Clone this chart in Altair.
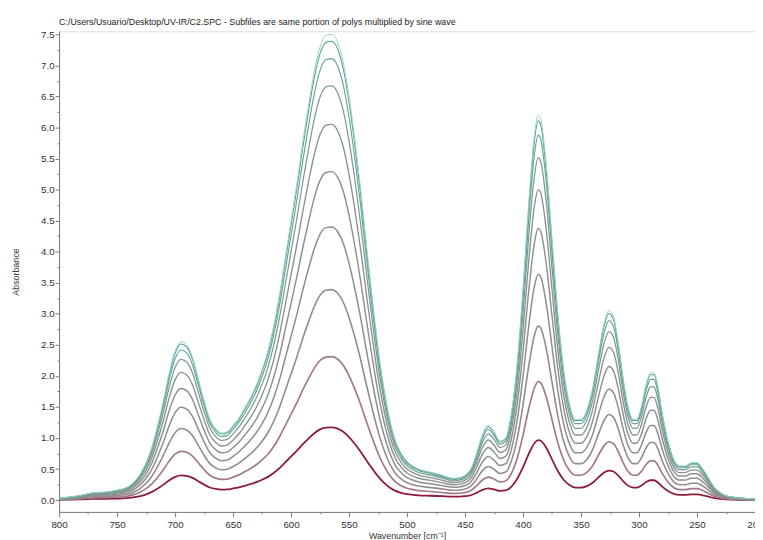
import altair as alt
import pandas as pd

# Wavenumber grid (cm^-1) and the outermost subfile
wavenumber = [
    800, 790, 780, 770, 760, 750, 745, 740, 735, 730,
    725, 720, 715, 710, 705, 700, 695, 690, 685, 680,
    675, 670, 665, 660, 655, 650, 645, 640, 635, 630,
    625, 620, 615, 610, 605, 600, 595, 590, 585, 580,
    575, 570, 565, 560, 555, 550, 545, 540, 535, 530,
    525, 520, 515, 510, 505, 500, 495, 490, 480, 470,
    460, 455, 450, 445, 440, 435, 430, 425, 420, 415,
    410, 405, 400, 395, 390, 387, 385, 380, 375, 370,
    365, 360, 355, 350, 345, 340, 335, 330, 326, 322,
    318, 314, 310, 305, 302, 298, 294, 290, 287, 284,
    280, 275, 270, 265, 260, 255, 250, 245, 240, 235,
    230, 225, 220, 210, 200]

top_curve = [
    0.03, 0.05, 0.08, 0.12, 0.13, 0.16, 0.18, 0.22, 0.30, 0.42,
    0.60, 0.85, 1.20, 1.60, 2.05, 2.40, 2.55, 2.50, 2.30, 1.95,
    1.60, 1.30, 1.15, 1.08, 1.10, 1.20, 1.32, 1.48, 1.65, 1.85,
    2.10, 2.40, 2.80, 3.30, 3.90, 4.50, 5.10, 5.75, 6.35, 6.90,
    7.30, 7.48, 7.50, 7.38, 7.05, 6.50, 5.80, 5.00, 4.10, 3.25,
    2.45, 1.80, 1.30, 0.95, 0.75, 0.62, 0.55, 0.50, 0.45, 0.40,
    0.35, 0.36, 0.40, 0.50, 0.75, 1.05, 1.20, 1.10, 0.95, 1.00,
    1.40, 2.20, 3.40, 4.80, 5.90, 6.20, 6.15, 5.40, 4.20, 3.00,
    2.10, 1.55, 1.30, 1.30, 1.45, 1.80, 2.35, 2.85, 3.05, 2.95,
    2.55, 2.00, 1.55, 1.30, 1.30, 1.50, 1.85, 2.05, 2.05, 1.85,
    1.40, 0.95, 0.65, 0.55, 0.55, 0.60, 0.60, 0.50, 0.35, 0.20,
    0.12, 0.07, 0.05, 0.03, 0.02]

# Peak height of each subfile at ~565 cm^-1
subfiles = ["S1", "S2", "S3", "S4", "S5", "S6", "S7", "S8", "S9", "S10"]
peak_heights = [1.17, 2.31, 3.39, 4.40, 5.29, 6.05, 6.67, 7.11, 7.39, 7.50]

line_colors = ["#8c1c34", "#a07a87", "#958a8f", "#8f8e8f", "#8b8f8f",
               "#86918f", "#7d9993", "#66a399", "#4f9f93", "#98d2c6"]
line_widths = [1.8, 1, 1, 1, 1, 1, 1, 1, 1, 1]

rows = []
top_peak = max(peak_heights)
for k, (name, h) in enumerate(zip(subfiles, peak_heights)):
    s = h / top_peak
    for w, v in zip(wavenumber, top_curve):
        rows.append({"subfile": name, "order": k, "wavenumber": w, "absorbance": v * s})
df = pd.DataFrame(rows)

FONT = "Liberation Sans"
TXT = "#333333"

x_ticks = list(range(200, 801, 25))
y_ticks = [i * 0.25 for i in range(31)]

chart = alt.Chart(df).mark_line(interpolate="monotone", clip=True).encode(
    x=alt.X(
        "wavenumber:Q",
        scale=alt.Scale(domain=[200, 800], reverse=True, nice=False, zero=False),
        axis=alt.Axis(
            values=x_ticks,
            labelExpr="datum.value % 50 === 0 ? datum.label : ''",
            tickSize={"condition": {"test": "datum.value % 50 === 0", "value": 5}, "value": 2},
            grid=False, domainColor="#777777", tickColor="#777777",
            labelFont=FONT, labelFontSize=10, labelColor=TXT, labelPadding=3,
            titleFont=FONT, titleFontSize=9, titleFontWeight="normal", titleColor=TXT,
            titlePadding=2, labelFlush=False,
        ),
        title="Wavenumber [cm⁻¹]",
    ),
    y=alt.Y(
        "absorbance:Q",
        scale=alt.Scale(domain=[-0.19, 7.55], nice=False, zero=False),
        axis=alt.Axis(
            values=y_ticks,
            labelExpr="datum.value * 2 % 1 === 0 ? format(datum.value, '.1f') : ''",
            tickSize={"condition": {"test": "datum.value * 2 % 1 === 0", "value": 4}, "value": 2},
            grid=False, domainColor="#777777", tickColor="#777777",
            labelFont=FONT, labelFontSize=10, labelColor=TXT, labelPadding=1,
            titleFont=FONT, titleFontSize=9, titleFontWeight="normal", titleColor=TXT,
            titlePadding=20, labelFlush=False,
        ),
        title="Absorbance",
    ),
    color=alt.Color("subfile:N", scale=alt.Scale(domain=subfiles, range=line_colors), legend=None),
    strokeWidth=alt.StrokeWidth("subfile:N", scale=alt.Scale(domain=subfiles, range=line_widths), legend=None),
    order=alt.Order("order:Q"),
).properties(
    width=708,
    height=489,
    title=alt.TitleParams(
        "C:/Users/Usuario/Desktop/UV-IR/C2.SPC - Subfiles are same portion of polys multiplied by sine wave",
        anchor="start", frame="group", font=FONT, fontSize=9, fontWeight="normal",
        color="#222222", offset=3,
    ),
    autosize=alt.AutoSizeParams(type="none"),
    padding={"left": 52, "top": 19, "right": 0, "bottom": 30},
).configure_view(stroke=None).configure(background="white")

chart.save("out.html", embed_options={"renderer": "svg", "actions": False})
